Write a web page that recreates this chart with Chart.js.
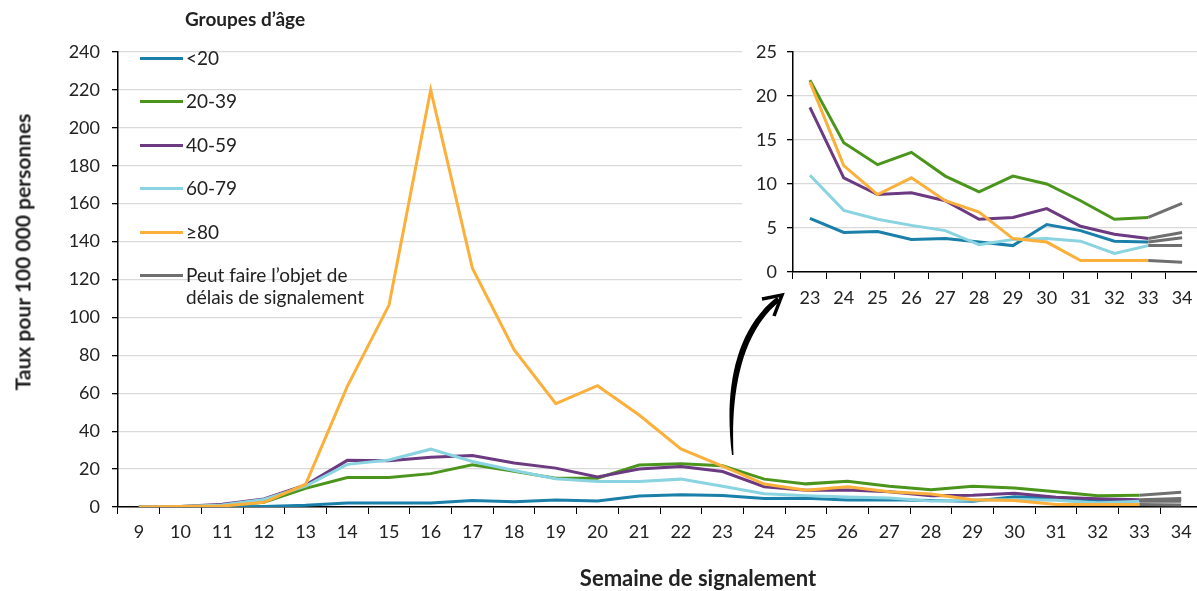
<!DOCTYPE html>
<html lang="fr">
<head>
<meta charset="utf-8">
<title>Taux pour 100 000 personnes par groupe d'âge</title>
<script src="https://cdn.jsdelivr.net/npm/chart.js@4.4.1/dist/chart.umd.min.js"></script>
<style>
  html, body { margin: 0; padding: 0; background: #fff; overflow: hidden; }
  body { width: 1197px; height: 591px; position: relative; font-family: Lato, "Open Sans", sans-serif; color: #222; }
  #mainChart { position: absolute; left: 0; top: 0; }
  #insetChart { position: absolute; left: 742px; top: 20px; background: #fff; }
  #legendTitle { position: absolute; left: 245px; top: 18px; transform: translate(-50%, -50%); font-weight: bold; font-size: 19px; white-space: nowrap; }
  #legend { position: absolute; left: 140px; top: 47px; font-size: 19px; line-height: 22px; }
  #legend .row { display: flex; align-items: flex-start; height: 43.4px; }
  #legend .swatch { width: 43px; height: 3px; margin-top: 10px; margin-right: 3px; flex: none; }
  #yTitle { position: absolute; left: 22px; top: 252px; transform: translate(-50%, -50%) rotate(-90deg); font-weight: bold; font-size: 21px; white-space: nowrap; }
  #xTitle { position: absolute; left: 698px; top: 577px; transform: translate(-50%, -50%); font-weight: bold; font-size: 22px; white-space: nowrap; }
  #arrow { position: absolute; left: 0; top: 0; pointer-events: none; }
</style>
</head>
<body>
<canvas id="mainChart" width="1203" height="591"></canvas>
<canvas id="insetChart" width="461" height="315"></canvas>
<div id="legendTitle">Groupes d’âge</div>
<div id="legend"></div>
<div id="yTitle">Taux pour 100 000 personnes</div>
<div id="xTitle">Semaine de signalement</div>
<svg id="arrow" width="1197" height="591">
  <path d="M732,455 C724,392 734,330 777,297 L780,301 C740,334 731,394 733.5,455 Z" fill="#000"/>
  <polyline points="762,299 782,295 774,316" fill="none" stroke="#000" stroke-width="3.5" stroke-linejoin="miter"/>
</svg>
<script>
// Semaines de signalement 9 a 34
const weeks = ['9', '10', '11', '12', '13', '14', '15', '16', '17', '18', '19', '20', '21',
               '22', '23', '24', '25', '26', '27', '28', '29', '30', '31', '32', '33', '34'];
const insetStart = 14; // l'encart commence a la semaine 23

const ageGroups = ['<20', '20-39', '40-59', '60-79', '≥80'];
const ageColors = ['#1a80aa', '#4c951c', '#6b3a80', '#8ad3e0', '#fbb03b'];
const delayLabel = 'Peut faire l’objet de délais de signalement';
const delayColor = '#6f6f6f';

// taux pour 100 000 (la semaine 34 est dans les series "delais")
const rateUnder20 = [0, 0, 0.1, 0.3, 0.9, 2.1, 2.1, 2.1, 3.4, 2.8, 3.7, 3.2, 5.8, 6.4, 6.1, 4.5, 4.6, 3.7, 3.8, 3.4, 3.0, 5.4, 4.7, 3.5, 3.4, null];
const rate20to39 = [0, 0.2, 0.5, 2.5, 9.8, 15.5, 15.5, 17.6, 22.3, 18.8, 15.2, 15.2, 22.1, 22.8, 21.8, 14.7, 12.2, 13.6, 10.9, 9.1, 10.9, 10.0, 8.1, 6.0, 6.2, null];
const rate40to59 = [0, 0.3, 1.5, 4.2, 11.6, 24.6, 24.4, 26.2, 27.1, 23.2, 20.5, 15.8, 20.0, 21.4, 18.7, 10.7, 8.8, 9.0, 8.1, 6.0, 6.2, 7.2, 5.2, 4.3, 3.8, null];
const rate60to79 = [0, 0.2, 1.0, 4.0, 11.0, 22.5, 24.8, 30.5, 24.0, 19.3, 14.9, 13.5, 13.5, 14.7, 11.0, 7.0, 6.0, 5.3, 4.7, 3.1, 3.7, 3.8, 3.5, 2.1, 3.0, null];
const rate80plus = [0, 0.2, 0.5, 2.5, 12.0, 63.6, 106.5, 220, 126, 83, 54.5, 64, 48.5, 30.6, 21.6, 12.1, 8.8, 10.7, 8.1, 6.8, 3.8, 3.4, 1.3, 1.3, 1.3, null];
const rateWeek34 = [3.9, 7.8, 4.5, 3.0, 1.1]; // meme ordre que ageGroups

const series = [rateUnder20, rate20to39, rate40to59, rate60to79, rate80plus];

function buildDatasets(start) {
    const sets = ageGroups.map((label, k) => ({
        label: label,
        data: series[k].slice(start),
        borderColor: ageColors[k],
        order: ageGroups.length - k
    }));
    // segments gris semaine 33 -> 34
    series.forEach((s, k) => {
        const data = weeks.map((w, i) => {
            if (i === weeks.length - 2) return s[i];
            if (i === weeks.length - 1) return rateWeek34[k];
            return null;
        });
        sets.push({ label: delayLabel, data: data.slice(start), borderColor: delayColor, order: 0 });
    });
    return sets;
}

function axes(opts) {
    return {
        x: {
            type: 'category',
            offset: true,
            grid: { offset: true, drawOnChartArea: false, drawTicks: true, tickLength: 7, tickColor: '#000' },
            border: { color: '#000', width: 1.5 },
            ticks: { autoSkip: false, maxRotation: 0, padding: opts.xPad, color: '#222', font: { family: 'Lato', size: 18 } },
            afterFit: function(scale) { scale.height = opts.xHeight; }
        },
        y: {
            min: 0,
            max: opts.yMax,
            ticks: { stepSize: opts.yStep, padding: opts.yPad, color: '#222', font: { family: 'Lato', size: 18 } },
            grid: { color: '#d9d9d9', lineWidth: 1.3, tickColor: '#000', tickLength: 6 },
            border: { color: '#000', width: 1.5 },
            afterFit: function(scale) { scale.width = opts.yWidth; }
        }
    };
}

const common = {
    responsive: false,
    animation: false,
    devicePixelRatio: 1,
    elements: { line: { borderWidth: 3, tension: 0 }, point: { radius: 0 } },
    plugins: { legend: { display: false }, tooltip: { enabled: false } }
};

new Chart(document.getElementById('mainChart'), {
    type: 'line',
    data: { labels: weeks, datasets: buildDatasets(0) },
    options: Object.assign({}, common, {
        layout: { padding: { left: 0, top: 52, right: 1, bottom: 0 } },
        scales: axes({ yMax: 240, yStep: 20, yPad: 12, yWidth: 118, xPad: 7, xHeight: 84 })
    })
});

new Chart(document.getElementById('insetChart'), {
    type: 'line',
    data: { labels: weeks.slice(insetStart), datasets: buildDatasets(insetStart) },
    options: Object.assign({}, common, {
        layout: { padding: { left: 0, top: 32, right: 4, bottom: 0 } },
        scales: axes({ yMax: 25, yStep: 5, yPad: 10, yWidth: 51, xPad: 8, xHeight: 63 })
    })
});

// legende HTML
const legend = document.getElementById('legend');
const legendItems = ageGroups.map((g, k) => ({ text: g, color: ageColors[k] }));
legendItems.push({ text: 'Peut faire l’objet de<br>délais de signalement', color: delayColor });
legendItems.forEach(item => {
    const row = document.createElement('div');
    row.className = 'row';
    row.innerHTML = '<span class="swatch" style="background:' + item.color + '"></span><span>' + item.text + '</span>';
    legend.appendChild(row);
});
</script>
</body>
</html>
